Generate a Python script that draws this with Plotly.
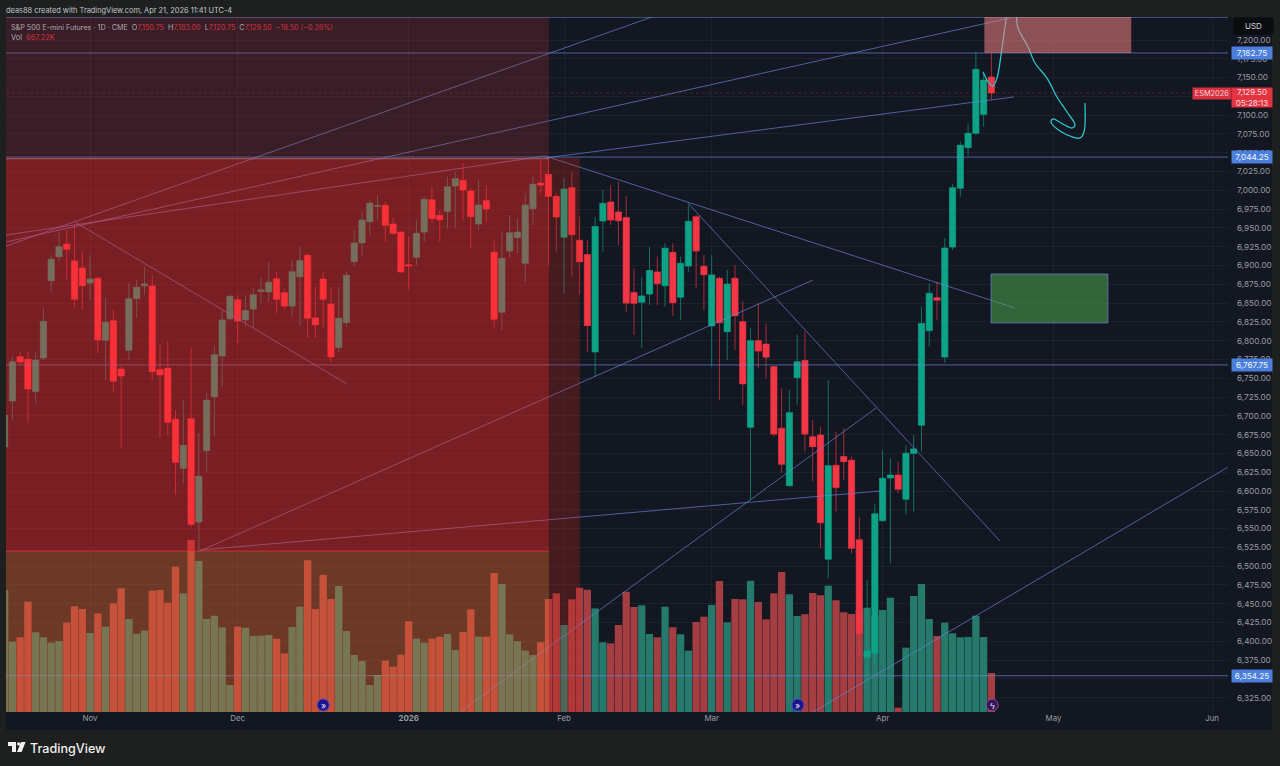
"""ES futures daily chart with the drawings from the TradingView snapshot."""

import plotly.graph_objects as go

# daily bars, bar 0 is the one cut off at the left edge, bar 127 is Apr 21
opens = [
    6658.5, 6719.75, 6778.75, 6775.25, 6732.5, 6777, 6879.75, 6911.75, 6928.5, 6906,
    6896.75, 6876.75, 6883, 6800.5, 6826.5, 6762.25, 6787.25, 6855.75, 6873, 6872.75,
    6761.5, 6763.5, 6695.5, 6630.25, 6696.25, 6558.75, 6653.5, 6725.5, 6779.5, 6829.25,
    6854.5, 6827.5, 6842, 6865.5, 6864.75, 6882.5, 6863.75, 6846, 6885, 6913.5,
    6830.25, 6882, 6848.75, 6790.75, 6824, 6905, 6930, 6958.25, 6978.75, 6980,
    6955.25, 6944.5, 6901, 6911, 6944.5, 6987.5, 6966.75, 6972, 7005.75, 7013.25,
    6999, 6955.25, 6986.25, 6917.5, 6837.75, 6919.25, 6937, 6903, 6975.5, 7009.75,
    7021.25, 6992, 6937.5, 7003.5, 6933.5, 6914.5, 6785, 6959.25, 6984.5, 6971.25,
    6964, 6864.25, 6851, 6862, 6891.5, 6873, 6917.5, 6857.75, 6899.25, 6965,
    6899, 6819.5, 6883, 6812, 6883, 6825.25, 6684.75, 6800, 6795.5, 6765.5,
    6683.5, 6607, 6750.75, 6773.5, 6672.25, 6674.5, 6509.25, 6634.25, 6645.75, 6641,
    6535.25, 6378.75, 6384, 6560.5, 6617.25, 6621.25, 6589, 6650, 6687.5, 6813.25,
    6857.25, 6778.25, 6924.5, 7002.75, 7056.75, 7076, 7101, 7150.75,
]
highs = [
    6708, 6778.75, 6785.25, 6785.25, 6785.25, 6843.5, 6914, 6945, 6947.25, 6954,
    6918.5, 6914, 6885, 6856.75, 6840.75, 6765.5, 6876.75, 6880.75, 6898.5, 6887.5,
    6794.25, 6798.5, 6707.75, 6721, 6790.25, 6677.25, 6730.5, 6794.25, 6840.75, 6860.75,
    6860.75, 6860.75, 6870, 6883.5, 6905, 6891.75, 6869.75, 6907.25, 6925, 6916.5,
    6871.5, 6891.75, 6871.5, 6871.5, 6891.75, 6947.25, 6971.5, 6987, 6993.75, 6985,
    6963.25, 6945, 6938.25, 6960.5, 6991.5, 7004.75, 6973.75, 7018, 7024.75, 7036.5,
    7002.75, 7013.75, 7007, 6934, 6945, 6967.25, 6962.75, 6996, 7018, 7040.5,
    7044.75, 6996.5, 7016, 7024.75, 6965, 6934, 6965, 7000.5, 7007, 7011.5,
    6992.5, 6896.25, 6885, 6925, 6911.75, 6929.5, 6929.5, 6911.75, 6980.5, 6967.25,
    6914, 6914, 6885, 6894, 6900.75, 6852, 6816.5, 6849.75, 6823, 6766.25,
    6736.5, 6734.5, 6807.5, 6812, 6694.5, 6685.5, 6747.75, 6679, 6683.5, 6645.75,
    6565.75, 6481.5, 6582.75, 6654.5, 6643.5, 6639, 6661.25, 6674.5, 6845.25, 6876.25,
    6878.5, 6936.5, 7008.5, 7064.75, 7089.25, 7184.5, 7157.75, 7183,
]
lows = [
    6654.5, 6694.5, 6769, 6690.5, 6717, 6774.25, 6865, 6905, 6880.75, 6843.5,
    6840.75, 6854, 6783.5, 6747.75, 6732, 6657.25, 6774.25, 6830.25, 6860.75, 6747.75,
    6670.5, 6674.5, 6594.75, 6610.75, 6552, 6519, 6625.75, 6672.25, 6738.75, 6827.5,
    6796.5, 6818.5, 6817, 6850, 6852, 6836.5, 6843, 6831.5, 6819.5, 6803.5,
    6803.5, 6817, 6771.5, 6785, 6818.5, 6899.25, 6911.75, 6940.5, 6960.5, 6931.75,
    6940.5, 6890, 6868.25, 6900.75, 6931.75, 6956.5, 6931.75, 6949.5, 6949.5, 6960.5,
    6923, 6947.25, 6956.5, 6816.5, 6814.25, 6910, 6916.5, 6878.5, 6954, 6996,
    6900.75, 6918.5, 6863, 6885, 6860.75, 6785, 6752, 6918.5, 6954, 6927.25,
    6838.5, 6807.5, 6790, 6847.5, 6847.5, 6845.25, 6833.25, 6827.5, 6891.75, 6869.75,
    6840.75, 6765.5, 6721, 6774.25, 6787.5, 6714.5, 6588, 6763.25, 6750.25, 6672.25,
    6624.5, 6605.75, 6714.5, 6652.25, 6612.5, 6523.75, 6484, 6572.5, 6614.5, 6517,
    6379.5, 6353, 6368.5, 6559.25, 6503.75, 6597, 6568, 6572.5, 6652.25, 6792,
    6827.5, 6770.25, 6920.5, 6991.5, 7046, 7073.5, 7084.75, 7120.75,
]
closes = [
    6701, 6772, 6771.5, 6735.75, 6774.25, 6825.75, 6908.25, 6925, 6921.5, 6855,
    6873, 6882, 6801, 6824.5, 6746, 6753, 6855.75, 6871, 6875.5, 6758.75,
    6754.25, 6691.5, 6638.25, 6660.75, 6555.75, 6619.5, 6720.75, 6781.25, 6827.5, 6859,
    6826.25, 6840, 6861.25, 6867.5, 6877.75, 6855, 6846, 6891.75, 6906.5, 6829.75,
    6821.25, 6855, 6778.25, 6829.75, 6887, 6930, 6960.5, 6982.75, 6979.5, 6953.5,
    6942.75, 6891.5, 6899.75, 6942.75, 6988, 6962.25, 6961, 7004.75, 7015.5, 7000.5,
    6965, 6980.5, 6975.25, 6828.5, 6909.5, 6943.5, 6944.5, 6980.5, 7008, 7007,
    6992, 6964.5, 7001.75, 6941, 6905, 6820, 6952, 6982.75, 6960.5, 6959.5,
    6850, 6849.75, 6859.5, 6893.5, 6875.75, 6923, 6850.5, 6903, 6958.75, 6919.25,
    6887.75, 6887.5, 6824, 6875.5, 6833.25, 6742.5, 6800, 6786.25, 6778, 6675.75,
    6635.5, 6704.25, 6772, 6675.75, 6659, 6557.75, 6633.75, 6604.5, 6639, 6523.75,
    6410.75, 6387.25, 6569.75, 6617, 6621.25, 6602.25, 6650.25, 6656, 6823, 6863,
    6853.75, 6923.25, 7003.5, 7060, 7076, 7161, 7146.75, 7129.5,
]
# volume in thousands of contracts
volumes = [
    2086, 1202, 1277, 1887, 1362, 1277, 1186, 1214, 1528, 1807,
    1761, 1351, 1687, 1459, 1858, 2115, 1590, 1340, 1391, 2076,
    2086, 1870, 2485, 2029, 2941, 2582, 1590, 1648, 1448, 462,
    1459, 1442, 1300, 1305, 1317, 1254, 1003, 1454, 1801, 2594,
    1761, 2343, 1932, 2155, 1385, 975, 872, 462, 633, 878,
    775, 980, 1551, 1254, 1186, 1254, 1288, 1334, 1060, 1368,
    1756, 1288, 1288, 2377, 2189, 1329, 1209, 1048, 975, 1192,
    1932, 2029, 1488, 1927, 2126, 2091, 1773, 1192, 1175, 1488,
    2057, 1796, 1825, 1334, 1277, 1801, 1448, 1329, 1048, 1539,
    1630, 1830, 2240, 1534, 1932, 1927, 2245, 1881, 1585, 2029,
    2394, 2013, 1642, 1671, 2035, 1996, 2160, 1910, 1705, 1676,
    1744, 1784, 1630, 1744, 1955, 74, 1100, 1984, 2189, 1590,
    1300, 1527, 1346, 1277, 1283, 1647, 1283, 667.22,
]

month_ticks = [11, 30, 52, 72, 91, 113, 135, 155.4]
month_labels = ["Nov", "Dec", "<b>2026</b>", "Feb", "Mar", "Apr", "May", "Jun"]
price_ticks = [6325 + 25 * n for n in range(36)]

hlines = [7230.25, 7182.75, 7044.25, 6767.75, 6354.25]
# trendlines as (bar, price, bar, price)
trendlines = [
    (0.18, 6925.9, 83.3, 7230.6),
    (0.18, 6940.6, 69.55, 7045.7),
    (0.18, 6931.3, 129.4, 7229.3),
    (9.06, 6957.9, 44.07, 6742.4),
    (25.15, 6521.5, 112.66, 6600),
    (25.15, 6520.2, 104.04, 6880.7),
    (69.55, 7045.7, 130.04, 6843.5),
    (87.95, 6983.1, 128.1, 6533.5),
    (58.6, 6306, 112.15, 6710.4),
    (104.04, 6306, 157.7, 6633.3),
    (69.55, 7043, 129.9, 7124.2),
]
# the hand drawn arrow
brush_x = [125.92, 126.69, 127.2, 127.72, 128.24, 128.75, 129.14, 130.04, 130.42, 131.71,
           132.61, 134.15, 135.44, 136.73, 137.76, 137.37, 136.21, 134.92, 134.67, 135.83,
           137.5, 138.4, 138.91, 139.04]
brush_y = [7157.4, 7142.8, 7138.8, 7149.4, 7180, 7217.3, 7236, 7236, 7216, 7190.7,
           7169.4, 7149.4, 7124.2, 7104.2, 7086.9, 7082.9, 7088.2, 7094.9, 7090.9, 7078.9,
           7070.9, 7069.6, 7077.6, 7116.2]

X_MIN, X_MAX = 0.18, 157.45
P_MIN, P_MAX = 6306, 7230.6
VOL_MAX = 11884.5

RED = "#f23645"
GREEN = "#0ea386"
LINE = "rgba(104,134,212,0.68)"
PANEL = "#131722"


def px(x):
    return (x - 6) / 1222


def py(y):
    return (712 - y) / 695


def zone(x0, x1, p0, p1, color, edge=None):
    return dict(type="rect", xref="x", yref="y2", x0=x0, x1=x1, y0=p0, y1=p1,
                fillcolor=color, line=dict(width=1 if edge else 0, color=edge),
                layer="above")


def note(x, y, text, size=7.4, color="#c4c6cc", weight=None):
    return dict(xref="paper", yref="paper", x=px(x), y=py(y), text=text, showarrow=False,
                xanchor="left", yanchor="middle", align="left",
                font=dict(size=size, color=color, weight=weight))


def chip(price, text):
    return dict(xref="paper", yref="y2", x=px(1231), y=price, text=text, showarrow=False,
                xanchor="left", yanchor="middle", width=40, height=12, bgcolor="#4a7fdc",
                borderpad=0, font=dict(size=8.2, color="#f2f5fc"))


bar_colors = ["#267a6c" if c >= o else "#a53e42" for o, c in zip(opens, closes)]
bars = list(range(len(opens)))

line_x = []
line_y = []
for p in hlines:
    line_x += [X_MIN, X_MAX, None]
    line_y += [p, p, None]
for x0, p0, x1, p1 in trendlines:
    line_x += [x0, x1, None]
    line_y += [p0, p1, None]

fig = go.Figure()
fig.add_trace(go.Bar(x=bars, y=volumes, marker=dict(color=bar_colors, line=dict(width=0)),
                     yaxis="y", hoverinfo="skip"))
fig.add_trace(go.Candlestick(
    x=bars, open=opens, high=highs, low=lows, close=closes, yaxis="y2",
    increasing=dict(line=dict(color="rgba(14,163,134,0.65)", width=1), fillcolor=GREEN),
    decreasing=dict(line=dict(color="rgba(242,54,69,0.65)", width=1), fillcolor=RED),
    hoverinfo="skip",
))
fig.add_trace(go.Scatter(x=[X_MIN, X_MAX], y=[closes[-1], closes[-1]], yaxis="y2", mode="lines",
                         line=dict(color="rgba(242,54,69,0.3)", width=1, dash="dot"),
                         hoverinfo="skip"))
fig.add_trace(go.Scatter(x=line_x, y=line_y, yaxis="y2", mode="lines",
                         line=dict(color=LINE, width=1), hoverinfo="skip"))
fig.add_trace(go.Scatter(x=brush_x, y=brush_y, yaxis="y2", mode="lines",
                         line=dict(color="#2cc3cc", width=1.3, shape="spline"),
                         hoverinfo="skip"))

shapes = [
    # chart panel behind axes
    dict(type="rect", xref="paper", yref="paper", x0=px(6), x1=px(1272), y0=py(730), y1=py(17),
         fillcolor=PANEL, line=dict(width=0), layer="below"),
    zone(X_MIN, 70.06, 7043, P_MAX, "rgba(210,54,60,0.2)"),
    zone(X_MIN, 70.06, 6520.2, 7043, "rgba(255,42,40,0.434)"),
    zone(X_MIN, 70.06, P_MIN, 6520.2, "rgba(245,109,47,0.4)"),
    zone(70.06, 74.05, P_MIN, 7043, "rgba(220,40,23,0.25)"),
    zone(126.09, 145, 7182.75, P_MAX, "rgba(240,130,130,0.55)"),
    zone(126.95, 142, 6823.5, 6888.7, "rgba(80,170,80,0.52)", LINE),
    dict(type="line", xref="x", yref="y2", x0=X_MIN, x1=70.06, y0=7042, y1=7042,
         line=dict(width=1.2, color="rgba(170,140,150,0.6)"), layer="above"),
    dict(type="line", xref="x", yref="y2", x0=X_MIN, x1=70.06, y0=6520.2, y1=6520.2,
         line=dict(width=1, color="rgba(235,50,50,0.7)"), layer="above"),
]
# event badges on the time scale
for bar, fill, edge in [(41, "#1c1488", "#4a46c8"), (102.1, "#1c1488", "#4a46c8"),
                        (127.1, "#341a55", "#9a48a8")]:
    shapes.append(dict(type="circle", xref="x", yref="y2", xsizemode="pixel", ysizemode="pixel",
                       xanchor=bar, yanchor=6315.3, x0=-6, x1=6, y0=-6, y1=6,
                       fillcolor=fill, line=dict(width=1, color=edge), layer="above"))
# TradingView logo
shapes += [
    dict(type="path", xref="paper", yref="paper", fillcolor="#f0f0f0", line=dict(width=0),
         layer="above", path=f"M {px(8)} {py(742)} L {px(16)} {py(742)} L {px(16)} {py(752)} "
                             f"L {px(12)} {py(752)} L {px(12)} {py(746)} L {px(8)} {py(746)} Z"),
    dict(type="circle", xref="paper", yref="paper", x0=px(17), x1=px(20.4), y0=py(745.6),
         y1=py(742.2), fillcolor="#f0f0f0", line=dict(width=0), layer="above"),
    dict(type="path", xref="paper", yref="paper", fillcolor="#f0f0f0", line=dict(width=0),
         layer="above", path=f"M {px(21)} {py(742)} L {px(25.6)} {py(742)} L {px(21.6)} {py(752)} "
                             f"L {px(17)} {py(752)} Z"),
]

o_red = '<span style="color:#d8313f">'
gap = "\u00a0\u00a0"
annotations = [
    note(4, 11, "deas88 created with TradingView.com, Apr 21, 2026 11:41 UTC-4"),
    note(9, 27, f"S&P 500 E-mini Futures · 1D · CME{gap}O{o_red}7,150.75</span>{gap}H{o_red}7,183.00</span>"
                f"{gap}L{o_red}7,120.75</span>{gap}C{o_red}7,129.50{gap}−18.50 (−0.26%)</span>",
         size=7.2, color="#a9aab0"),
    note(9, 37.5, f"Vol{gap}{o_red}667.22K</span>", size=7.4, color="#a9aab0"),
    note(28, 748, "TradingView", size=12.6, color="#f0f0f0", weight=500),
    chip(7182.75, "7,182.75"),
    chip(7044.25, "7,044.25"),
    chip(6767.75, "6,767.75"),
    chip(6354.25, "6,354.25"),
    dict(xref="paper", yref="paper", x=px(1233), y=py(26), text="USD", showarrow=False,
         xanchor="left", yanchor="middle", width=37, height=14, bgcolor="#0b0c10",
         font=dict(size=8, color="#d4d6dc")),
    dict(xref="paper", yref="paper", x=px(1192), y=py(93), text="ESM2026", showarrow=False,
         xanchor="left", yanchor="middle", width=38, height=11, bgcolor="#d9303f", borderpad=0,
         font=dict(size=7.4, color="#f6d5d8")),
    dict(xref="paper", yref="paper", x=px(1231), y=py(97.7), text="7,129.50<br>05:28:13",
         showarrow=False, xanchor="left", yanchor="middle", width=40, height=19,
         bgcolor="#e2333f", borderpad=0, font=dict(size=8, color="#fbdfe1")),
]
for bar, glyph in [(41, "»"), (102.1, "»"), (127.1, "ϟ")]:
    annotations.append(dict(xref="x", yref="y2", x=bar, y=6315.3, text=glyph, showarrow=False,
                            font=dict(size=9, color="#e6e4f6")))

fig.update_layout(
    width=1280,
    height=766,
    margin=dict(l=6, r=52, t=17, b=54),
    autosize=False,
    paper_bgcolor="#1e1f1f",
    plot_bgcolor=PANEL,
    showlegend=False,
    hovermode=False,
    dragmode=False,
    bargap=0.06,
    boxgap=0.2,
    boxgroupgap=0,
    font=dict(family="Inter, Roboto, sans-serif", color="#9a9ca3", size=8.2),
    xaxis=dict(range=[X_MIN, X_MAX], tickmode="array", tickvals=month_ticks, ticktext=month_labels,
               showgrid=True, gridcolor="rgba(255,255,255,0.045)", zeroline=False, ticklen=0,
               showline=False, rangeslider=dict(visible=False), tickfont=dict(size=7.9),
               fixedrange=True, automargin=False),
    yaxis=dict(range=[0, VOL_MAX], visible=False, fixedrange=True, automargin=False),
    yaxis2=dict(range=[P_MIN, P_MAX], overlaying="y", side="right", tickmode="array",
                tickvals=price_ticks, tickformat=",.2f", showgrid=True,
                gridcolor="rgba(255,255,255,0.045)", zeroline=False, ticklen=0, showline=False,
                ticklabelstandoff=8, tickfont=dict(size=8.2), fixedrange=True, automargin=False),
    shapes=shapes,
    annotations=annotations,
)

fig.write_html("out.html", config={"displayModeBar": False},
               post_script="document.body.style.margin='0';")
